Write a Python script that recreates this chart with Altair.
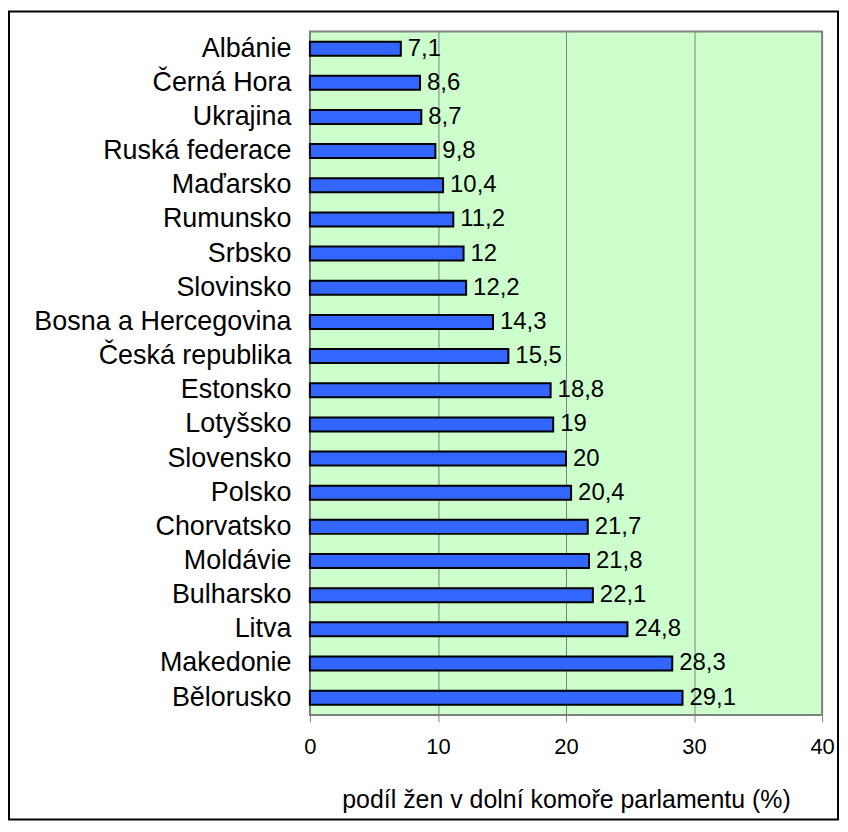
import altair as alt
import pandas as pd

countries = ["Albánie", "Černá Hora", "Ukrajina", "Ruská federace", "Maďarsko",
             "Rumunsko", "Srbsko", "Slovinsko", "Bosna a Hercegovina", "Česká republika",
             "Estonsko", "Lotyšsko", "Slovensko ", "Polsko", "Chorvatsko",
             "Moldávie", "Bulharsko", "Litva", "Makedonie ", "Bělorusko "]
values = [7.1, 8.6, 8.7, 9.8, 10.4, 11.2, 12, 12.2, 14.3, 15.5,
          18.8, 19, 20, 20.4, 21.7, 21.8, 22.1, 24.8, 28.3, 29.1]
labels = [("%g" % v).replace(".", ",") for v in values]
x_ticks = [0, 10, 20, 30, 40]
x_title = "podíl žen v dolní komoře parlamentu (%)"

df = pd.DataFrame({"country": countries, "value": values, "label": labels})

W, H = 514, 686
FONT = "Liberation Sans"

x_enc = alt.X("value:Q",
              scale=alt.Scale(domain=[0, 40], nice=False),
              axis=alt.Axis(values=x_ticks, title=x_title, grid=True,
                            gridColor="#808080", gridWidth=1,
                            domain=False, tickColor="#808080", tickSize=7,
                            labelFontSize=22, labelPadding=15, labelColor="#000000",
                            labelFlush=False,
                            labelFont=FONT, titleFont=FONT, titleFontSize=25,
                            titleFontWeight="normal", titlePadding=30, titleColor="#000000"))
y_enc = alt.Y("country:N", sort=None,
              scale=alt.Scale(paddingInner=0.59, paddingOuter=0.3),
              axis=alt.Axis(title=None, ticks=False, domain=False,
                            labelFontSize=27, labelFont=FONT, labelColor="#000000",
                            labelPadding=19, labelLimit=400))

bars = alt.Chart(df).mark_bar(color="#3366FF", stroke="#000000", strokeWidth=2).encode(
    x=x_enc, y=y_enc)

text = alt.Chart(df).mark_text(align="left", baseline="middle", dx=7, fontSize=24,
                               font=FONT, color="#000000").encode(
    x=alt.X("value:Q"), y=alt.Y("country:N", sort=None), text="label:N")

border = alt.Chart(pd.DataFrame({"a": [0]})).mark_rect(
    fill=None, stroke="#000000", strokeWidth=2, clip=False).encode(
    x=alt.value(-302), x2=alt.value(W + 16), y=alt.value(-20), y2=alt.value(H + 105))

chart = alt.layer(border, bars, text).properties(
    width=W, height=H,
    autosize=alt.AutoSizeParams(type="none"),
    padding={"left": 303, "top": 22, "right": 18, "bottom": 108},
    background="#ffffff",
).configure_view(fill="#CCFFCC", stroke="#808080", strokeWidth=2)

chart.save("out.html", embed_options={"renderer": "svg", "actions": False})
